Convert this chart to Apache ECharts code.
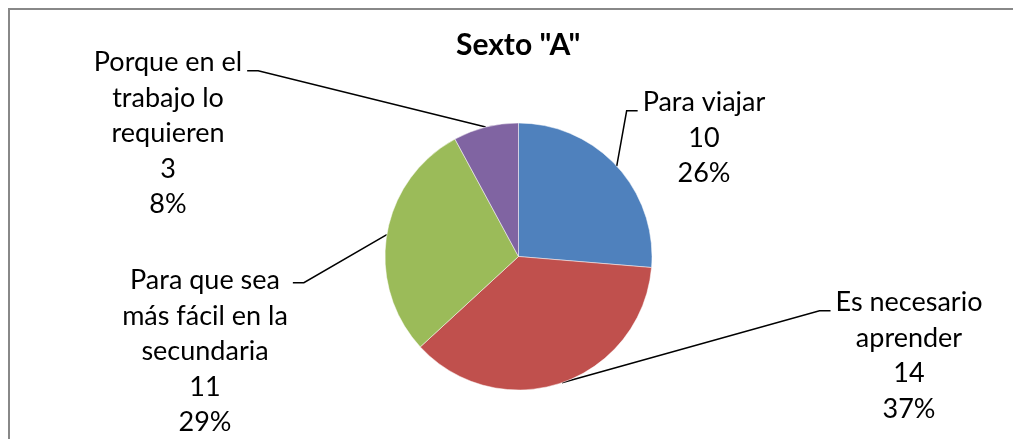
<!DOCTYPE html>
<html><head><meta charset="utf-8">
<script src="https://cdn.jsdelivr.net/npm/echarts@6/dist/echarts.min.js"></script>
<style>html,body{margin:0;padding:0;background:#fff;overflow:hidden}#c{width:1013px;height:439px}</style>
</head><body><div id="c"></div>
<script>
const titleText = 'Sexto "A"';
const categories = ['Para viajar', 'Es necesario\naprender', 'Para que sea\nmás fácil en la\nsecundaria', 'Porque en el\ntrabajo lo\nrequieren'];
const values = [10, 14, 11, 3];
const colors = ['#4F81BD', '#C0504D', '#9BBB59', '#8064A2'];

// layout only: label block [centerX, topY] and leader-line vertical offset
const labelAnchors = [[704, 85], [909, 285], [205, 263], [168, 45]];
const lineOffsets = [8, 8, 2, 8];
const LH = 35.5;

const chart = echarts.init(document.getElementById('c'), null, {renderer: 'canvas'});
chart.setOption({
  animation: false,
  backgroundColor: '#fff',
  title: {
    text: titleText,
    left: 456,
    top: 30,
    padding: 0,
    textStyle: {fontFamily: 'Lato', fontWeight: 'bold', fontSize: 30, color: '#000'}
  },
  graphic: [{
    type: 'polyline', silent: true, z: -10,
    shape: {points: [[9, 700], [9, 9], [1400, 9]]},
    style: {fill: null, stroke: '#888', lineWidth: 2}
  }],
  series: [{
    type: 'pie',
    center: [518.5, 256.5],
    radius: 133.5,
    startAngle: 90,
    clockwise: true,
    percentPrecision: 0,
    avoidLabelOverlap: false,
    emphasis: {disabled: true},
    itemStyle: {borderColor: 'rgba(255,255,255,0.7)', borderWidth: 0.7},
    label: {
      show: true,
      position: 'outside',
      formatter: '{b}\n{c}\n{d}%',
      fontFamily: 'Lato',
      fontSize: 27,
      lineHeight: LH,
      color: '#000',
      align: 'center'
    },
    labelLine: {show: true, lineStyle: {color: '#000', width: 1.5}},
    labelLayout: function (p) {
      const i = p.dataIndex;
      const a = labelAnchors[i];
      const w = p.labelRect.width;
      const edge = p.labelLinePoints ? p.labelLinePoints[0] : [a[0], a[1]];
      const right = a[0] > edge[0];
      const lineY = a[1] + LH / 2 + lineOffsets[i];
      const endX = right ? a[0] - w / 2 - 5 : a[0] + w / 2 + 5;
      const bendX = right ? endX - 11 : endX + 11;
      return {
        x: a[0], y: a[1], align: 'center', verticalAlign: 'top',
        labelLinePoints: [edge, [bendX, lineY], [endX, lineY]]
      };
    },
    data: categories.map((n, i) => ({name: n, value: values[i], itemStyle: {color: colors[i]}}))
  }]
});
</script></body></html>
